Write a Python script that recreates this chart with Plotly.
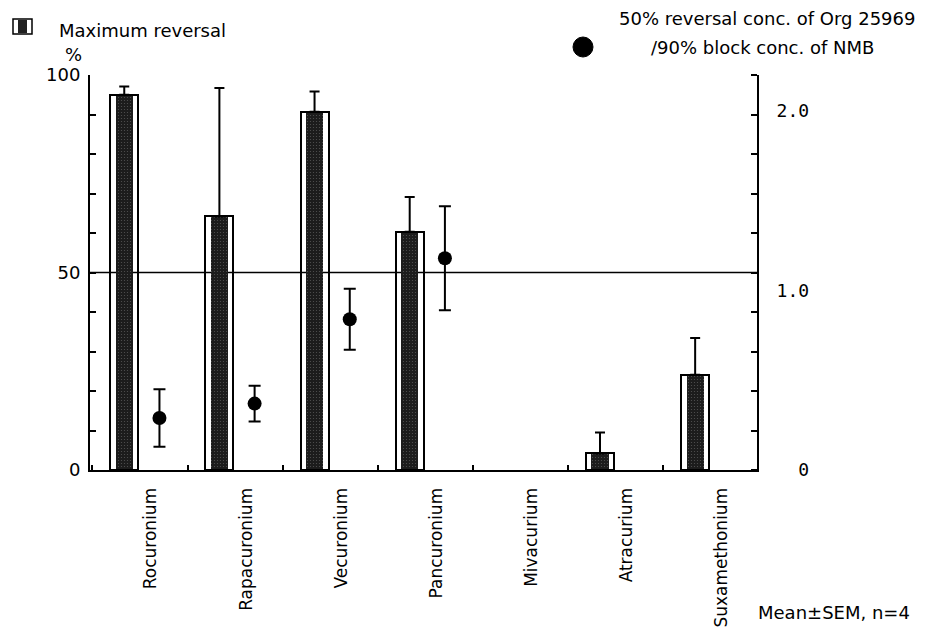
import plotly.graph_objects as go

# ---------------- data ----------------
drugs = ["Rocuronium", "Rapacuronium", "Vecuronium", "Pancuronium",
         "Mivacurium", "Atracurium", "Suxamethonium"]
max_reversal = [95.0, 64.2, 90.7, 60.3, None, 4.2, 24.1]          # % (left axis)
max_reversal_sem = [2.1, 32.5, 5.1, 8.8, None, 5.3, 9.3]
conc_ratio = [0.29, 0.37, 0.84, 1.18, None, None, None]           # right axis
conc_ratio_sem = [0.16, 0.10, 0.17, 0.29, None, None, None]
left_ticks = [0, 50, 100]
left_ticktext = ["0", "50", "100"]
right_ticks = [0, 1, 2]
right_ticktext = ["\u00a0\u00a00", "1.0", "2.0"]

# ---------------- layout helpers ----------------
W, H = 935, 627
L, R, T, B = 90, 757, 75, 470          # plot area in pixels
def px(x):
    return (x - L) / (R - L)
def py(y):
    return (B - y) / (B - T)

pos = list(range(len(drugs)))
BAR_W = 0.294
STRIP_W = 0.18
DOT_OFF = 0.37
LABEL_OFF = 0.28

FONT = "DejaVu Sans"
MONO = "DejaVu Sans Mono"

fig = go.Figure()

# inner stippled strip
fig.add_trace(go.Bar(
    x=pos, y=max_reversal, width=STRIP_W,
    marker=dict(color="#1c1c1c", line=dict(width=0),
                pattern=dict(shape=".", fgcolor="#8a8a8a", size=3, solidity=0.12)),
    showlegend=False, hoverinfo="skip"))

# outlined bar with upward SEM
fig.add_trace(go.Bar(
    x=pos, y=max_reversal, width=BAR_W,
    marker=dict(color="rgba(0,0,0,0)", line=dict(color="black", width=2)),
    error_y=dict(type="data", symmetric=False, array=max_reversal_sem,
                 arrayminus=[0 if v is not None else None for v in max_reversal_sem],
                 color="black", thickness=2, width=5),
    showlegend=False))

# ratio dots
fig.add_trace(go.Scatter(
    x=[p + DOT_OFF for p in pos], y=conc_ratio, yaxis="y2", mode="markers",
    marker=dict(color="black", size=14),
    error_y=dict(type="data", array=conc_ratio_sem, color="black", thickness=2, width=6),
    showlegend=False))

fig.add_hline(y=50, line=dict(color="black", width=1.5), layer="below")

fig.update_layout(
    width=W, height=H, autosize=False,
    margin=dict(l=L, r=W - R, t=T, b=H - B, pad=0, autoexpand=False),
    paper_bgcolor="white", plot_bgcolor="white",
    barmode="overlay", bargap=0,
    font=dict(family=FONT, size=18, color="black"),
    xaxis=dict(range=[-0.36, 6.65], showline=True, linecolor="black", linewidth=2,
               automargin=False,
               showgrid=False, zeroline=False, tickmode="array",
               tickvals=[p + LABEL_OFF for p in pos], ticktext=drugs,
               tickangle=-90, ticks="", ticklabelstandoff=9,
               tickfont=dict(family=FONT, size=17, color="black"),
               minor=dict(ticks="inside", tickmode="linear", tick0=0.665, dtick=1,
                          ticklen=5, tickwidth=1.5, tickcolor="black", showgrid=False)),
    yaxis=dict(range=[0, 100], showline=True, linecolor="black", linewidth=2,
               automargin=False,
               showgrid=False, zeroline=False, tickmode="array",
               tickvals=left_ticks, ticktext=left_ticktext,
               ticks="inside", ticklen=6, tickwidth=1.5, tickcolor="black",
               ticklabelstandoff=4,
               tickfont=dict(family=FONT, size=18, color="black"),
               minor=dict(ticks="inside", tickmode="linear", tick0=0, dtick=10,
                          ticklen=6, tickwidth=1.5, tickcolor="black", showgrid=False)),
    yaxis2=dict(range=[0, 2.2005], overlaying="y", side="right", showline=True,
                automargin=False,
                linecolor="black", linewidth=2, showgrid=False, zeroline=False,
                tickmode="array", tickvals=right_ticks, ticktext=right_ticktext,
                ticks="", ticklabelstandoff=14,
                tickfont=dict(family=MONO, size=18, color="black"),
                minor=dict(ticks="inside", tickmode="linear", tick0=0, dtick=0.22,
                           ticklen=6, tickwidth=1.5, tickcolor="black", showgrid=False)),
)

# ---------------- legends / annotations ----------------
shapes = [
    dict(type="rect", xref="paper", yref="paper", x0=px(13), x1=px(32), y0=py(34), y1=py(19),
         line=dict(color="black", width=1.5), fillcolor="white"),
    dict(type="rect", xref="paper", yref="paper", x0=px(18), x1=px(27), y0=py(33), y1=py(20),
         line=dict(width=0), fillcolor="#202020"),
    dict(type="circle", xref="paper", yref="paper", x0=px(573), x1=px(593), y0=py(57), y1=py(37),
         line=dict(color="black", width=1), fillcolor="black"),
]
for s in shapes:
    fig.add_shape(**s)

def ann(text, x, y, xanchor="left", size=18, family=FONT):
    fig.add_annotation(text=text, xref="paper", yref="paper", x=px(x), y=py(y),
                       xanchor=xanchor, yanchor="middle", showarrow=False,
                       font=dict(family=family, size=size, color="black"))

ann("Maximum reversal", 57, 30)
ann("%", 73, 55, xanchor="center")
ann("50% reversal conc. of Org 25969", 767, 19, xanchor="center")
ann("/90% block conc. of NMB", 762, 47, xanchor="center")
ann("Mean±SEM, n=4", 912, 612, xanchor="right")

fig.write_html("out.html", config={"displayModeBar": False},
               post_script="document.body.style.margin='0';")
